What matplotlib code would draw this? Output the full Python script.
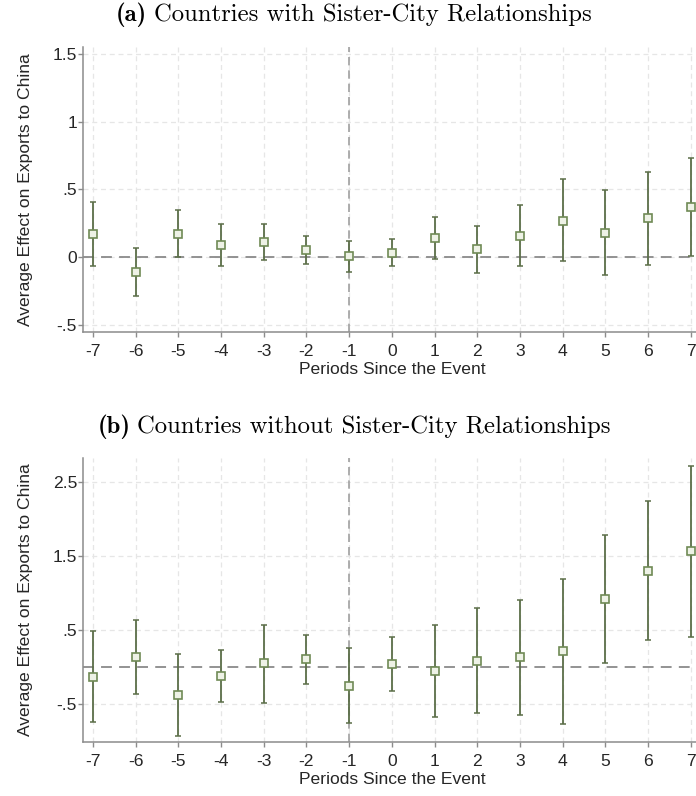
import numpy as np
import matplotlib.pyplot as plt

# event-study estimates with 95% CIs, periods -7..7
periods = np.arange(-7, 8)

# (a) countries with sister-city relationships
coef_a = [0.172, -0.111, 0.172, 0.086, 0.108, 0.054, 0.005, 0.032, 0.140, 0.057, 0.158, 0.268, 0.180, 0.286, 0.372]
upper_a = [0.406, 0.069, 0.350, 0.241, 0.246, 0.158, 0.120, 0.130, 0.296, 0.229, 0.382, 0.574, 0.495, 0.628, 0.734]
lower_a = [-0.066, -0.290, 0.000, -0.069, -0.025, -0.052, -0.110, -0.066, -0.017, -0.118, -0.064, -0.032, -0.135, -0.057, 0.007]

# (b) countries without sister-city relationships
coef_b = [-0.124, 0.137, -0.372, -0.119, 0.056, 0.110, -0.245, 0.047, -0.052, 0.092, 0.137, 0.218, 0.921, 1.304, 1.574]
upper_b = [0.489, 0.642, 0.182, 0.232, 0.574, 0.444, 0.259, 0.412, 0.570, 0.800, 0.917, 1.196, 1.786, 2.250, 2.727]
lower_b = [-0.732, -0.363, -0.921, -0.471, -0.475, -0.227, -0.745, -0.313, -0.672, -0.620, -0.638, -0.768, 0.056, 0.372, 0.417]

yticks_a = [-0.5, 0, 0.5, 1, 1.5]
ylabels_a = ['-.5', '0', '.5', '1', '1.5']
yticks_b = [-0.5, 0.5, 1.5, 2.5]
ylabels_b = ['-.5', '.5', '1.5', '2.5']

title_a = 'Countries with Sister-City Relationships'
title_b = 'Countries without Sister-City Relationships'

plt.rcParams['font.family'] = ['Liberation Sans', 'DejaVu Sans']

W, H = 696, 796
fig = plt.figure(figsize=(W / 100, H / 100), dpi=100)

line_col = '#5b6e48'
mark_col = '#6f8a55'
grid_col = '#e6e6e6'
axis_col = '#8c8c8c'
txt_col = '#262626'
fs = 12.6


def panel(rect, coef, lo, hi, yt, yl, ylim):
    ax = fig.add_axes(rect)
    coef = np.array(coef)
    err = [coef - np.array(lo), np.array(hi) - coef]
    ax.errorbar(periods, coef, yerr=err, fmt='none', ecolor=line_col,
                elinewidth=1.3, capsize=2.5, capthick=1.1, zorder=3)
    ax.plot(periods, coef, 's', ms=6, mfc='#eef2e6', mec=mark_col, mew=1.2, zorder=4)
    ax.axhline(0, color='#8a8a8a', lw=1.3, ls=(0, (6, 4)), zorder=2)
    ax.axvline(-1, color='#a0a0a0', lw=1.2, ls=(0, (5, 3)), zorder=2)
    ax.set_xlim(-7.23, 7.23)
    ax.set_ylim(*ylim)
    ax.set_xticks(periods)
    ax.set_xticklabels([str(p) for p in periods])
    ax.set_yticks(yt)
    ax.set_yticklabels(yl)
    ax.grid(True, color=grid_col, lw=0.9, ls=(0, (4, 3)), zorder=0)
    for s in ['top', 'right']:
        ax.spines[s].set_visible(False)
    for s in ['left', 'bottom']:
        ax.spines[s].set_color(axis_col)
        ax.spines[s].set_linewidth(1.1)
    ax.tick_params(colors=axis_col, labelcolor=txt_col, labelsize=fs,
                   length=3.5, width=1.0, pad=0.8)
    ax.tick_params(axis='x', pad=5)
    ax.set_ylabel('Average Effect on Exports to China', fontsize=fs, color=txt_col, labelpad=14)
    ax.set_xlabel('Periods Since the Event', fontsize=fs, color=txt_col, labelpad=2)
    return ax


panel([83 / W, 1 - 332 / H, 617.7 / W, 285 / H], coef_a, lower_a, upper_a,
      yticks_a, ylabels_a, (-0.554, 1.551))
panel([83 / W, 1 - 742 / H, 617.7 / W, 284 / H], coef_b, lower_b, upper_b,
      yticks_b, ylabels_b, (-1.007, 2.83))

# panel captions: bold letter + roman text, centred as one line
tfs = 17.8
cx = 354
for y, tag, txt in [(1 - 15 / H, '(a)', title_a), (1 - 427 / H, '(b)', title_b)]:
    tb = fig.text(0, y, tag, fontsize=tfs, family='cmb10', ha='left', va='center')
    tr = fig.text(0, y, txt, fontsize=tfs, family='cmr10', ha='left', va='center')
    fig.canvas.draw()
    wb = tb.get_window_extent().width
    wr = tr.get_window_extent().width
    gap = 7
    x0 = cx - (wb + gap + wr) / 2
    tb.set_x(x0 / W)
    tr.set_x((x0 + wb + gap) / W)

fig.savefig('out.png', dpi=100)
